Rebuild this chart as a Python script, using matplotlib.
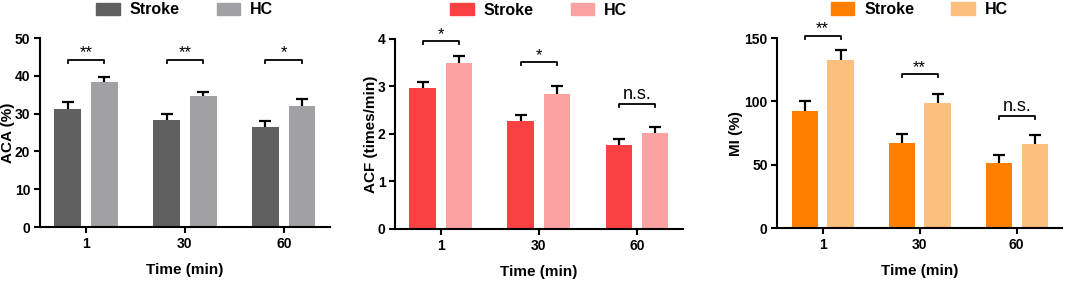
import numpy as np
import matplotlib
matplotlib.use("Agg")
import matplotlib.pyplot as plt
from matplotlib.patches import Patch

plt.rcParams['font.family'] = ['Liberation Sans', 'DejaVu Sans']

times = ["1", "30", "60"]
groups = ["Stroke", "HC"]

# ACA (%)
aca_stroke = [31.3, 28.2, 26.4]
aca_stroke_err = [1.8, 1.6, 1.7]
aca_hc = [38.5, 34.6, 31.9]
aca_hc_err = [1.3, 1.2, 2.0]
aca_sig = ["**", "**", "*"]
aca_brk = [44.3, 44.3, 44.3]

# ACF (times/min)
acf_stroke = [2.96, 2.28, 1.77]
acf_stroke_err = [0.14, 0.12, 0.12]
acf_hc = [3.49, 2.85, 2.01]
acf_hc_err = [0.16, 0.16, 0.14]
acf_sig = ["*", "*", "n.s."]
acf_brk = [3.95, 3.52, 2.63]

# MI (%)
mi_stroke = [92.4, 67.1, 51.6]
mi_stroke_err = [7.9, 6.8, 6.3]
mi_hc = [132.9, 98.7, 66.3]
mi_hc_err = [7.4, 7.1, 6.9]
mi_sig = ["**", "**", "n.s."]
mi_brk = [152, 121.8, 88.2]

panels = [
    dict(rect=[0.0376, 0.195, 0.272, 0.670], s=aca_stroke, se=aca_stroke_err, h=aca_hc, he=aca_hc_err,
         sig=aca_sig, brk=aca_brk, ylim=50, yticks=[0, 10, 20, 30, 40, 50], ylabel="ACA (%)",
         colors=["#606060", "#a1a1a5"], ylx=-0.086),
    dict(rect=[0.371, 0.188, 0.270, 0.674], s=acf_stroke, se=acf_stroke_err, h=acf_hc, he=acf_hc_err,
         sig=acf_sig, brk=acf_brk, ylim=4, yticks=[0, 1, 2, 3, 4], ylabel="ACF (times/min)",
         colors=["#f94144", "#fda2a2"], ylx=-0.059),
    dict(rect=[0.730, 0.191, 0.267, 0.674], s=mi_stroke, se=mi_stroke_err, h=mi_hc, he=mi_hc_err,
         sig=mi_sig, brk=mi_brk, ylim=150, yticks=[0, 50, 100, 150], ylabel="MI (%)",
         colors=["#ff8000", "#fdbf80"], ylx=-0.12),
]

fig = plt.figure(figsize=(10.65, 2.82), dpi=100)
x = np.arange(len(times))
w = 0.27
off = 0.185

for p in panels:
    ax = fig.add_axes(p["rect"])
    ax.bar(x - off, p["s"], w, color=p["colors"][0])
    ax.bar(x + off, p["h"], w, color=p["colors"][1])
    # one-sided (upper) error bars, lower cap hidden
    for xs, vals, errs in [(x - off, p["s"], p["se"]), (x + off, p["h"], p["he"])]:
        eb = ax.errorbar(xs, vals, yerr=[np.zeros(3), errs], fmt='none', ecolor='black',
                         elinewidth=1.6, capsize=4.3, capthick=1.6)
        eb[1][0].set_visible(False)
    ym = p["ylim"]
    px = ym / 190.0  # one pixel in data units
    for i in range(3):
        yb = p["brk"][i]
        ax.plot([i - off, i - off, i + off, i + off], [yb - 3 * px, yb, yb, yb - 3 * px], color='black',
                lw=1.3, clip_on=False)
        if p["sig"][i] == "n.s.":
            ax.text(i, yb + 5 * px, "n.s.", ha='center', va='baseline', fontsize=13)
        else:
            ax.text(i, yb + 2 * px, p["sig"][i], ha='center', va='baseline', fontsize=12)
    ax.set_xlim(-0.465, 2.465)
    ax.set_ylim(0, ym)
    ax.set_yticks(p["yticks"])
    ax.set_xticks(x)
    ax.set_xticklabels(times)
    ax.spines['top'].set_visible(False)
    ax.spines['right'].set_visible(False)
    ax.spines['left'].set_linewidth(1.5)
    ax.spines['bottom'].set_linewidth(1.5)
    ax.tick_params(width=1.5, length=4.5, labelsize=10, pad=2.5)
    for lab in ax.get_xticklabels() + ax.get_yticklabels():
        lab.set_fontweight('bold')
    ax.set_ylabel(p["ylabel"], fontsize=11, fontweight='bold')
    ax.yaxis.set_label_coords(p["ylx"], 0.5)
    ax.set_xlabel("Time (min)", fontsize=11, fontweight='bold')
    ax.xaxis.set_label_coords(0.5, -0.19)
    handles = [Patch(color=p["colors"][0]), Patch(color=p["colors"][1])]
    ax.legend(handles, groups, loc='center', bbox_to_anchor=(0.5, 1.15), ncol=2, frameon=False,
              prop={'weight': 'bold', 'size': 11.5}, handlelength=1.45, handleheight=0.8,
              columnspacing=2.3, handletextpad=0.65, borderaxespad=0)

fig.savefig("out.png", dpi=100)
